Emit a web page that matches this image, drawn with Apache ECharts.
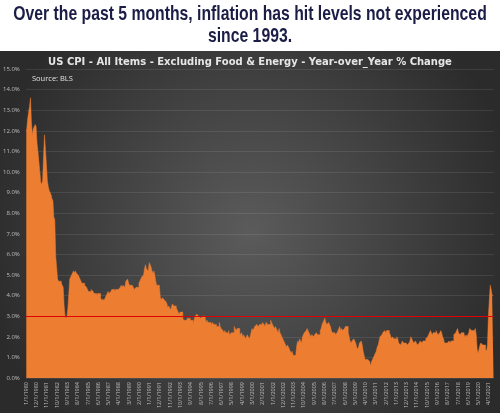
<!DOCTYPE html>
<html>
<head>
<meta charset="utf-8">
<script src="https://cdn.jsdelivr.net/npm/echarts@6/dist/echarts.min.js"></script>
<style>
html,body{margin:0;padding:0;background:#fff;}
#c{width:500px;height:413px;}
</style>
</head>
<body>
<div id="c"></div>
<script>
// Core CPI year-over-year % change, monthly (Jan..Dec)
const y1980 = [12.0, 12.1, 12.6, 12.9, 13.2, 13.6, 12.4, 11.8, 12.1, 12.2, 12.3, 12.2];
const y1981 = [11.4, 11.0, 10.5, 10.0, 9.5, 9.4, 9.6, 10.8, 11.8, 11.1, 10.4, 9.6];
const y1982 = [9.3, 9.1, 9.0, 8.9, 8.7, 8.6, 7.8, 7.7, 5.9, 5.9, 4.8, 4.7];
const y1983 = [4.7, 4.7, 4.6, 4.5, 4.4, 3.5, 3.0, 2.9, 3.0, 3.4, 4.1, 4.8];
const y1984 = [4.9, 5.0, 5.1, 5.2, 5.1, 5.2, 5.1, 5.1, 5.0, 5.0, 4.8, 4.7];
const y1985 = [4.6, 4.6, 4.6, 4.5, 4.5, 4.4, 4.3, 4.2, 4.2, 4.2, 4.3, 4.3];
const y1986 = [4.2, 4.1, 4.1, 4.1, 4.0, 4.1, 4.1, 4.1, 3.9, 3.8, 3.8, 3.8];
const y1987 = [3.8, 3.9, 4.0, 4.1, 4.2, 4.1, 4.1, 4.2, 4.3, 4.3, 4.3, 4.2];
const y1988 = [4.3, 4.3, 4.3, 4.3, 4.3, 4.4, 4.5, 4.4, 4.5, 4.5, 4.4, 4.7];
const y1989 = [4.7, 4.8, 4.6, 4.5, 4.5, 4.5, 4.5, 4.4, 4.3, 4.3, 4.4, 4.4];
const y1990 = [4.4, 4.6, 4.7, 4.8, 4.9, 4.9, 5.0, 5.3, 5.5, 5.3, 5.3, 5.2];
const y1991 = [5.6, 5.6, 5.4, 5.2, 5.1, 5.2, 5.0, 4.7, 4.5, 4.5, 4.5, 4.4];
const y1992 = [3.9, 3.8, 3.9, 3.9, 3.8, 3.8, 3.7, 3.6, 3.4, 3.5, 3.5, 3.3];
const y1993 = [3.5, 3.6, 3.5, 3.5, 3.5, 3.4, 3.3, 3.3, 3.1, 3.2, 3.2, 3.2];
const y1994 = [2.9, 2.8, 2.8, 2.8, 2.8, 2.9, 2.9, 2.9, 2.8, 2.8, 2.8, 2.6];
const y1995 = [2.8, 3.0, 3.0, 3.1, 3.1, 3.0, 3.0, 2.9, 2.9, 3.0, 3.0, 3.0];
const y1996 = [2.9, 2.7, 2.8, 2.7, 2.7, 2.7, 2.7, 2.6, 2.7, 2.6, 2.6, 2.6];
const y1997 = [2.5, 2.5, 2.5, 2.7, 2.5, 2.4, 2.4, 2.3, 2.2, 2.3, 2.2, 2.2];
const y1998 = [2.2, 2.3, 2.1, 2.1, 2.2, 2.2, 2.2, 2.5, 2.5, 2.3, 2.4, 2.4];
const y1999 = [2.4, 2.1, 2.1, 2.2, 2.0, 2.1, 2.1, 1.9, 2.0, 2.1, 2.1, 1.9];
const y2000 = [2.0, 2.2, 2.4, 2.3, 2.4, 2.5, 2.5, 2.6, 2.6, 2.5, 2.6, 2.6];
const y2001 = [2.6, 2.7, 2.7, 2.6, 2.5, 2.7, 2.7, 2.6, 2.6, 2.6, 2.8, 2.7];
const y2002 = [2.6, 2.6, 2.4, 2.5, 2.5, 2.3, 2.2, 2.4, 2.2, 2.2, 2.0, 1.9];
const y2003 = [1.9, 1.7, 1.7, 1.5, 1.6, 1.5, 1.5, 1.3, 1.2, 1.3, 1.1, 1.1];
const y2004 = [1.1, 1.2, 1.6, 1.8, 1.7, 1.9, 1.8, 1.7, 2.0, 2.0, 2.2, 2.2];
const y2005 = [2.3, 2.4, 2.3, 2.2, 2.2, 2.0, 2.1, 2.1, 2.0, 2.1, 2.1, 2.2];
const y2006 = [2.1, 2.1, 2.1, 2.3, 2.4, 2.6, 2.7, 2.8, 2.9, 2.7, 2.6, 2.6];
const y2007 = [2.7, 2.7, 2.5, 2.3, 2.2, 2.2, 2.2, 2.1, 2.1, 2.2, 2.3, 2.4];
const y2008 = [2.5, 2.3, 2.4, 2.3, 2.3, 2.4, 2.5, 2.5, 2.5, 2.2, 2.0, 1.8];
const y2009 = [1.7, 1.8, 1.8, 1.9, 1.8, 1.7, 1.5, 1.4, 1.5, 1.7, 1.7, 1.8];
const y2010 = [1.6, 1.3, 1.1, 0.9, 0.9, 0.9, 0.9, 0.9, 0.8, 0.6, 0.8, 0.8];
const y2011 = [1.0, 1.1, 1.2, 1.3, 1.5, 1.6, 1.8, 2.0, 2.0, 2.1, 2.2, 2.2];
const y2012 = [2.3, 2.2, 2.3, 2.3, 2.3, 2.2, 2.1, 1.9, 2.0, 2.0, 1.9, 1.9];
const y2013 = [1.9, 2.0, 1.9, 1.7, 1.7, 1.6, 1.7, 1.8, 1.7, 1.7, 1.7, 1.7];
const y2014 = [1.6, 1.6, 1.7, 1.8, 2.0, 1.9, 1.9, 1.7, 1.7, 1.8, 1.7, 1.6];
const y2015 = [1.6, 1.7, 1.8, 1.8, 1.7, 1.8, 1.8, 1.8, 1.9, 1.9, 2.0, 2.1];
const y2016 = [2.2, 2.3, 2.2, 2.1, 2.2, 2.2, 2.2, 2.3, 2.2, 2.1, 2.1, 2.2];
const y2017 = [2.3, 2.2, 2.0, 1.9, 1.7, 1.7, 1.7, 1.7, 1.7, 1.8, 1.7, 1.8];
const y2018 = [1.8, 1.8, 2.1, 2.1, 2.2, 2.3, 2.4, 2.2, 2.2, 2.1, 2.2, 2.2];
const y2019 = [2.2, 2.1, 2.0, 2.1, 2.0, 2.1, 2.2, 2.4, 2.4, 2.3, 2.3, 2.3];
const y2020 = [2.3, 2.4, 2.1, 1.4, 1.2, 1.2, 1.6, 1.7, 1.7, 1.6, 1.6, 1.6];
const y2021 = [1.4, 1.3, 1.6, 3.0, 3.8, 4.5, 4.3, 4.0, 4.0];

const yearly = [y1980,y1981,y1982,y1983,y1984,y1985,y1986,y1987,y1988,y1989,
  y1990,y1991,y1992,y1993,y1994,y1995,y1996,y1997,y1998,y1999,
  y2000,y2001,y2002,y2003,y2004,y2005,y2006,y2007,y2008,y2009,
  y2010,y2011,y2012,y2013,y2014,y2015,y2016,y2017,y2018,y2019,
  y2020,y2021];
const firstYear = 1980;
const referenceLevel = [3.0];
const yTicks = [0,1,2,3,4,5,6,7,8,9,10,11,12,13,14,15];

const categories = [];
const values = [];
yearly.forEach((arr, i) => {
  arr.forEach((v, m) => {
    categories.push((m + 1) + '/1/' + (firstYear + i));
    values.push(v);
  });
});

const headFont = "bold 21px 'Liberation Sans', 'DejaVu Sans', sans-serif";
const chart = echarts.init(document.getElementById('c'), null, {renderer: 'canvas'});
chart.setOption({
  animation: false,
  backgroundColor: '#ffffff',
  graphic: [{
    type: 'rect',
    z: -100,
    silent: true,
    shape: {x: 0, y: 51, width: 500, height: 362},
    style: {
      fill: {
        type: 'radial', x: 0.5, y: 0.5, r: 0.75,
        colorStops: [{offset: 0, color: '#5b5b5b'}, {offset: 1, color: '#2b2b2b'}]
      }
    }
  }, {
    type: 'text', silent: true, z: 10,
    x: 250, y: 4, scaleX: 0.75,
    style: {
      text: 'Over the past 5 months, inflation has hit levels not experienced',
      font: headFont, fill: '#1b1d46', textAlign: 'center', textVerticalAlign: 'top'
    }
  }, {
    type: 'text', silent: true, z: 10,
    x: 250, y: 26, scaleX: 0.75,
    style: {
      text: 'since 1993.',
      font: headFont, fill: '#1b1d46', textAlign: 'center', textVerticalAlign: 'top'
    }
  }, {
    type: 'text', silent: true, z: 10,
    x: 250, y: 57,
    style: {
      text: 'US CPI - All Items - Excluding Food & Energy - Year-over_Year % Change',
      font: "bold 10px 'DejaVu Sans', sans-serif", fill: '#e6e6e6',
      textAlign: 'center', textVerticalAlign: 'top'
    }
  }, {
    type: 'text', silent: true, z: 10,
    x: 32, y: 75,
    style: {
      text: 'Source: BLS',
      font: "7.5px 'Open Sans', sans-serif", fill: '#e0e0e0',
      textAlign: 'left', textVerticalAlign: 'top'
    }
  }],
  grid: {left: 25, right: 6, top: 69, bottom: 35, containLabel: false},
  xAxis: {
    type: 'category',
    data: categories,
    boundaryGap: true,
    axisLine: {show: false},
    axisTick: {show: false},
    axisLabel: {
      interval: 10, rotate: 90, fontSize: 5.5, color: '#bdbdbd', margin: 4,
      fontFamily: "'Open Sans', sans-serif"
    },
    splitLine: {show: false}
  },
  yAxis: {
    type: 'value',
    min: yTicks[0], max: yTicks[yTicks.length - 1], interval: 1,
    axisLine: {show: false},
    axisTick: {show: false},
    axisLabel: {
      formatter: v => v.toFixed(1) + '%', fontSize: 6, color: '#bdbdbd', margin: 6,
      fontFamily: "'Open Sans', sans-serif"
    },
    splitLine: {lineStyle: {color: 'rgba(255,255,255,0.09)', width: 1}}
  },
  series: [{
    type: 'line',
    data: values,
    step: 'middle',
    showSymbol: false,
    symbol: 'none',
    lineStyle: {width: 0.5, color: '#ED7D31'},
    areaStyle: {color: '#ED7D31', opacity: 1},
    z: 2,
    markLine: {
      silent: true,
      symbol: ['none', 'none'],
      label: {show: false},
      lineStyle: {color: '#e00000', width: 1.2, type: 'solid'},
      data: [{yAxis: referenceLevel[0]}],
      z: 5
    }
  }]
});
</script>
</body>
</html>
